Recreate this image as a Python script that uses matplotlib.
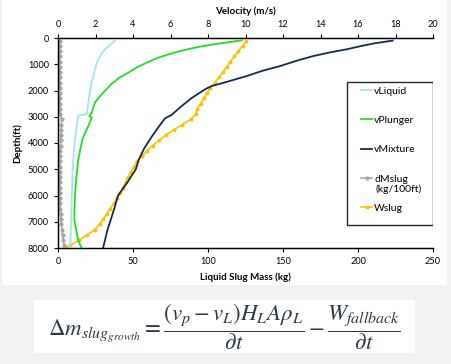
import matplotlib
matplotlib.use("Agg")
import matplotlib.pyplot as plt
from matplotlib.patches import Rectangle

plt.rcParams['font.family'] = ['Lato', 'DejaVu Sans']
plt.rcParams['mathtext.fontset'] = 'stix'

# velocities (m/s) vs depth (ft)
liq_depth = [100, 250, 430, 600, 810, 1000, 1200, 1500, 1830, 2100, 2460, 2900, 2950,
             3350, 4000, 5000, 6000, 7000, 8000]
liq_vel = [3.05, 2.8, 2.51, 2.32, 2.15, 2.05, 1.97, 1.86, 1.76, 1.69, 1.62, 1.53, 1.08,
           1.0, 0.88, 0.78, 0.74, 0.70, 0.66]

plg_depth = [90, 150, 220, 300, 400, 500, 600, 750, 900, 1100, 1300, 1500, 1750, 2020,
             2250, 2460, 2700, 2840, 2970, 3035, 3350, 3760, 4200, 4650, 5300, 5920,
             6500, 6930, 7440, 7750, 8000]
plg_vel = [9.8, 9.2, 8.5, 7.8, 7.1, 6.5, 6.0, 5.35, 4.85, 4.25, 3.8, 3.3, 2.85, 2.5,
           2.2, 1.97, 1.86, 1.8, 1.67, 1.8, 1.62, 1.35, 1.2, 1.08, 0.98, 0.91,
           0.88, 0.87, 1.0, 1.1, 1.26]

mix_depth = [100, 200, 300, 430, 550, 690, 850, 1070, 1250, 1450, 1650, 1830, 1955, 2300,
             2650, 2930, 3060, 3400, 3760, 4200, 4650, 5000, 5500, 6000, 6550, 7310,
             7950, 8000]
mix_vel = [17.85, 16.9, 16.2, 15.4, 14.5, 13.6, 12.8, 11.84, 10.9, 10.06, 9.1, 8.2, 7.84,
           7.1, 6.5, 6.06, 5.71, 5.35, 5.0, 4.6, 4.3, 4.15, 3.7, 3.2, 2.98, 2.64,
           2.42, 2.40]

# masses (kg) vs depth (ft)
mass_depth = [100, 300, 500, 700, 900, 1100, 1300, 1500, 1700, 1900, 2100, 2300, 2500,
              2700, 2900, 3100, 3300, 3500, 3700, 3900, 4100, 4300, 4500, 4700, 4900,
              5100, 5300, 5500, 5700, 5900, 6100, 6300, 6500, 6700, 6900, 7100, 7300,
              7500, 7700, 7900, 8000]
wslug = [125.6, 123.0, 120.3, 117.6, 114.9, 112.5, 110.0, 107.3, 104.5, 101.6, 99.4,
         97.2, 95.0, 92.8, 91.8, 88.5, 82.8, 77.2, 71.8, 67.4, 63.0, 59.4, 56.0, 52.9,
         50.6, 48.6, 46.8, 45.0, 43.3, 41.6, 39.6, 37.2, 34.8, 32.4, 30.0, 27.8, 24.5,
         19.5, 13.9, 8.0, 4.7]
dmslug = [1.1, 1.1, 1.1, 1.1, 1.2, 1.2, 1.2, 1.2, 1.2, 1.2, 1.2, 1.3, 1.3, 1.3, 1.3,
          2.4, 2.3, 2.2, 2.0, 1.8, 1.7, 1.6, 1.5, 1.4, 1.4, 1.3, 1.3, 1.3, 1.3, 1.3,
          1.4, 1.5, 1.6, 1.8, 2.0, 2.3, 2.6, 3.0, 3.5, 4.1, 4.5]

fig = plt.figure(figsize=(4.51, 3.64), dpi=100)
fig.patch.set_facecolor('#f2f2f2')
# white chart panel and equation box
fig.patches.append(Rectangle((2 / 451, 1 - 285 / 364), 445 / 451, 285 / 364,
                             transform=fig.transFigure, facecolor='white', edgecolor='none', zorder=-5))
fig.patches.append(Rectangle((34 / 451, 1 - 353 / 364), 381 / 451, 53 / 364,
                             transform=fig.transFigure, facecolor='white', edgecolor='none', zorder=-5))

ax = fig.add_axes([58 / 451, 1 - 248 / 364, 375 / 451, 210 / 364])
ax.set_facecolor('none')
ax2 = ax.twiny()

l4, = ax.plot(dmslug, mass_depth, color='#a6a6a6', lw=1.2, marker='o', ms=2.0, label='dMslug')
l5, = ax.plot(wslug, mass_depth, color='#ffc000', lw=1.2, marker='o', ms=1.8, label='Wslug')
l1, = ax2.plot(liq_vel, liq_depth, color='#a7e3f5', lw=1.3, label='vLiquid')
l2, = ax2.plot(plg_vel, plg_depth, color='#1fe01f', lw=1.3, label='vPlunger')
l3, = ax2.plot(mix_vel, mix_depth, color='#14285a', lw=1.3, label='vMixture')

ax.set_xlim(0, 250)
ax2.set_xlim(0, 20)
ax.set_ylim(8000, 0)
ax.set_xticks(range(0, 251, 50))
ax2.set_xticks(range(0, 21, 2))
ax.set_yticks(range(0, 8001, 1000))

for a in (ax, ax2):
    a.spines['right'].set_visible(False)
    for s in a.spines.values():
        s.set_color('black')
        s.set_linewidth(0.9)
    a.tick_params(labelsize=6.6, length=3, width=0.8, pad=3.5, colors='black')

ax.set_xlabel('Liquid Slug Mass (kg)', fontsize=7, fontweight='bold', labelpad=4.5)
ax2.set_xlabel('Velocity (m/s)', fontsize=7, fontweight='bold', labelpad=4)
ax.set_ylabel('Depth(ft)', fontsize=7, fontweight='bold', labelpad=4)

# legend box
ax2.add_patch(Rectangle((289 / 375, 23 / 210), 86 / 375, 143 / 210, transform=ax2.transAxes,
                        facecolor='white', edgecolor='#262626', lw=1.0, zorder=5))
leg = ax2.legend(handles=[l1, l2, l3, l4, l5], loc='upper left',
                 bbox_to_anchor=(303 / 375, 161.5 / 210), frameon=False, fontsize=7.5,
                 handlelength=1.1, handletextpad=0.15, labelspacing=1.92, borderpad=0,
                 borderaxespad=0)
leg.set_zorder(6)
# second line of the dMslug legend label
ax2.text(317 / 375, (248 - 189) / 210, '(kg/100ft)', transform=ax2.transAxes,
         fontsize=7.5, ha='left', va='center', zorder=7)

fig.text(0.498, 1 - 327 / 364,
         r'$\Delta m_{slug_{growth}} = \dfrac{(v_p - v_L)H_L A\rho_L}{\partial t} - \dfrac{W_{fallback}}{\partial t}$',
         ha='center', va='center', fontsize=16.5, color='#2c3846')

fig.savefig('out.png', dpi=100, facecolor=fig.get_facecolor())
